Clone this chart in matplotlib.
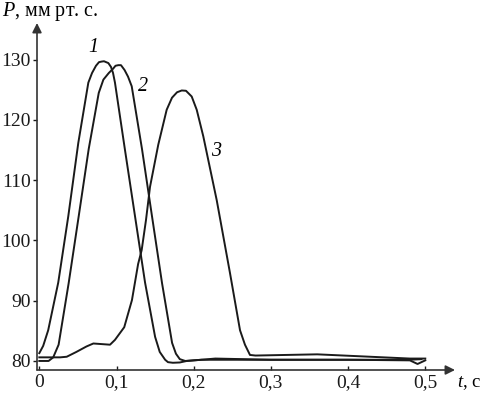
import matplotlib.pyplot as plt

plt.rcParams['font.family'] = ['Liberation Serif', 'DejaVu Serif']
plt.rcParams['mathtext.fontset'] = 'custom'
plt.rcParams['mathtext.rm'] = 'Liberation Serif'
plt.rcParams['mathtext.it'] = 'Liberation Serif:italic'

# curve 1
t1 = [0.000, 0.005, 0.0115, 0.0245, 0.0375, 0.0505, 0.0635, 0.0683, 0.0734, 0.0773,
      0.0808, 0.0838, 0.0894, 0.0929, 0.0955, 0.098, 0.111, 0.124, 0.137, 0.150,
      0.156, 0.163, 0.1667, 0.173, 0.182, 0.191, 0.210, 0.228, 0.30, 0.40,
      0.480, 0.490, 0.500]
p1 = [81.3, 82.5, 85.1, 93.0, 104.0, 116.2, 126.2, 127.8, 129.0, 129.6,
      129.7, 129.75, 129.45, 128.8, 127.8, 126.2, 115.0, 104.0, 93.0, 84.0,
      81.5, 80.2, 79.8, 79.7, 79.75, 80.0, 80.2, 80.4, 80.2, 80.2,
      80.1, 79.5, 80.1]

# curve 2
t2 = [0.000, 0.012, 0.018, 0.025, 0.038, 0.051, 0.064, 0.077, 0.083, 0.090,
      0.0955, 0.0987, 0.1023, 0.1058, 0.1104, 0.1149, 0.1197, 0.133, 0.146, 0.159,
      0.172, 0.177, 0.182, 0.189, 0.210, 0.30, 0.40, 0.480, 0.495]
p2 = [80.0, 80.0, 80.6, 82.7, 92.9, 104.0, 115.2, 124.5, 126.7, 127.8,
      128.5, 129.0, 129.1, 129.1, 128.3, 127.2, 125.6, 115.2, 104.0, 92.9,
      83.0, 81.2, 80.3, 80.0, 80.2, 80.2, 80.2, 80.2, 80.3]

# curve 3
t3 = [0.000, 0.027, 0.0355, 0.048, 0.061, 0.070, 0.0916, 0.098, 0.110, 0.120,
      0.128, 0.1326, 0.1382, 0.1434, 0.1541, 0.165, 0.1719, 0.1784, 0.1845, 0.190,
      0.1974, 0.2039, 0.2124, 0.2298, 0.247, 0.260, 0.2664, 0.2729, 0.280, 0.36,
      0.48, 0.50]
p3 = [80.6, 80.6, 80.7, 81.5, 82.4, 82.9, 82.7, 83.5, 85.6, 90.1,
      96.1, 98.4, 103.4, 108.9, 115.9, 121.7, 123.7, 124.6, 124.9, 124.85,
      123.9, 121.7, 117.3, 106.7, 94.6, 85.1, 82.7, 81.0, 80.9, 81.1,
      80.4, 80.4]

labels = ['1', '2', '3']
label_t = [0.070, 0.135, 0.229]
label_p = [132.0, 125.5, 114.7]

yticks = [80, 90, 100, 110, 120, 130]
xticks = [0, 0.1, 0.2, 0.3, 0.4, 0.5]
xticklabels = ['0', '0,1', '0,2', '0,3', '0,4', '0,5']

W, H = 481, 393
fig = plt.figure(figsize=(W / 100, H / 100), dpi=100)
# axes box in pixels: left 37, right 455, bottom 370, top 23
ax = fig.add_axes([37 / W, (H - 370) / H, (455 - 37) / W, (370 - 23) / H])
ax.set_xlim(-0.003, 0.5385)
ax.set_ylim(78.5, 136.1)

lc = '#1a1a1a'
for t, p in zip([t1, t2, t3], [p1, p2, p3]):
    ax.plot(t, p, color=lc, lw=1.4, solid_joinstyle='round')

for s, x, y in zip(labels, label_t, label_p):
    ax.text(x, y, s, fontsize=14.5, style='italic', ha='center', va='center')

for sp in ax.spines.values():
    sp.set_visible(False)
# axes with arrows
ax.annotate('', xy=(1, 0), xytext=(0, 0), xycoords='axes fraction',
            arrowprops=dict(arrowstyle='-|>', color='#333333', lw=1.2,
                            mutation_scale=14, shrinkA=0, shrinkB=0))
ax.annotate('', xy=(0, 1), xytext=(0, 0), xycoords='axes fraction',
            arrowprops=dict(arrowstyle='-|>', color='#333333', lw=1.2,
                            mutation_scale=14, shrinkA=0, shrinkB=0))

ax.set_yticks(yticks)
ax.set_xticks(xticks)
ax.set_xticklabels(xticklabels)
ax.tick_params(axis='y', direction='out', length=3, width=1, pad=1.5,
               labelsize=14, colors='#1a1a1a')
ax.tick_params(axis='x', direction='in', length=3, width=1, pad=3,
               labelsize=14, colors='#1a1a1a')

fig.text(2 / W, 1 - 16 / H, r'$\mathit{P}$, мм рт. с.', fontsize=14.5,
         ha='left', va='baseline')
fig.text(457 / W, 1 - 387 / H, r'$\mathit{t}$, с', fontsize=13.5,
         ha='left', va='baseline')

fig.savefig('out.png', dpi=100)
